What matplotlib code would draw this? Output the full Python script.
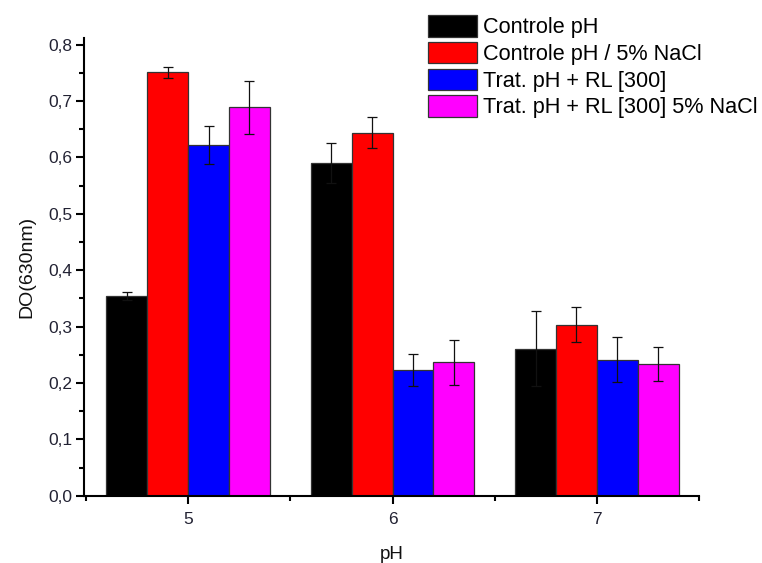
import matplotlib
matplotlib.use("Agg")
import matplotlib.pyplot as plt
import numpy as np
from matplotlib.ticker import MultipleLocator, FuncFormatter

plt.rcParams['font.family'] = ['Liberation Sans', 'DejaVu Sans']

categories = ["5", "6", "7"]
series_names = ["Controle pH", "Controle pH / 5% NaCl",
                "Trat. pH + RL [300]", "Trat. pH + RL [300] 5% NaCl"]
colors = ["#000000", "#ff0000", "#0000ff", "#ff00ff"]
values = [
    [0.354, 0.590, 0.261],
    [0.751, 0.644, 0.303],
    [0.622, 0.223, 0.241],
    [0.689, 0.237, 0.233],
]
errors = [
    [0.007, 0.035, 0.067],
    [0.010, 0.028, 0.031],
    [0.034, 0.028, 0.040],
    [0.047, 0.040, 0.030],
]

fig = plt.figure(figsize=(7.62, 5.63), dpi=100)
ax = fig.add_axes([84/762, 67.3/563, (699-84)/762, (525-67.3)/563])

x = np.arange(5, 5 + len(categories))
width = 0.2
offsets = [-1.5, -0.5, 0.5, 1.5]
for vals, errs, col, name, off in zip(values, errors, colors, series_names, offsets):
    ax.bar(x + off * width, vals, width, color=col, edgecolor="#333333",
           linewidth=0.9, label=name, zorder=2)
    ax.errorbar(x + off * width, vals, yerr=errs, fmt="none", ecolor="#111111",
                elinewidth=0.9, capsize=3.3, capthick=0.9, zorder=3)

ax.set_xlim(4.49, 7.5)
ax.set_ylim(0, 0.812)
ax.set_xticks(x)
ax.set_xticklabels(categories)
ax.xaxis.set_minor_locator(MultipleLocator(0.5))
ax.yaxis.set_major_locator(MultipleLocator(0.1))
ax.yaxis.set_minor_locator(MultipleLocator(0.05))
ax.yaxis.set_major_formatter(FuncFormatter(lambda v, p: f"{v:.1f}".replace(".", ",")))

for s in ["top", "right"]:
    ax.spines[s].set_visible(False)
for s in ["left", "bottom"]:
    ax.spines[s].set_linewidth(1.5)
ax.tick_params(axis="both", which="major", direction="out", length=5.5, width=1.5,
               labelsize=12.5, labelcolor="#222233")
ax.tick_params(axis="x", which="major", pad=6)
ax.tick_params(axis="y", which="major", pad=3)
ax.tick_params(axis="both", which="minor", direction="out", length=3.5, width=1.5)
ax.set_xlabel("pH", fontsize=13.5, color="#111111", labelpad=14)
ax.set_ylabel("DO(630nm)", fontsize=14, color="#111111", labelpad=9)

leg = fig.legend(loc="upper left", bbox_to_anchor=(428/762, 1 - 15/563),
                 frameon=False, fontsize=15.6, borderpad=0, borderaxespad=0,
                 handlelength=2.25, handleheight=1.15, handletextpad=0.28,
                 labelspacing=0.17)

fig.savefig("out.png", dpi=100)
